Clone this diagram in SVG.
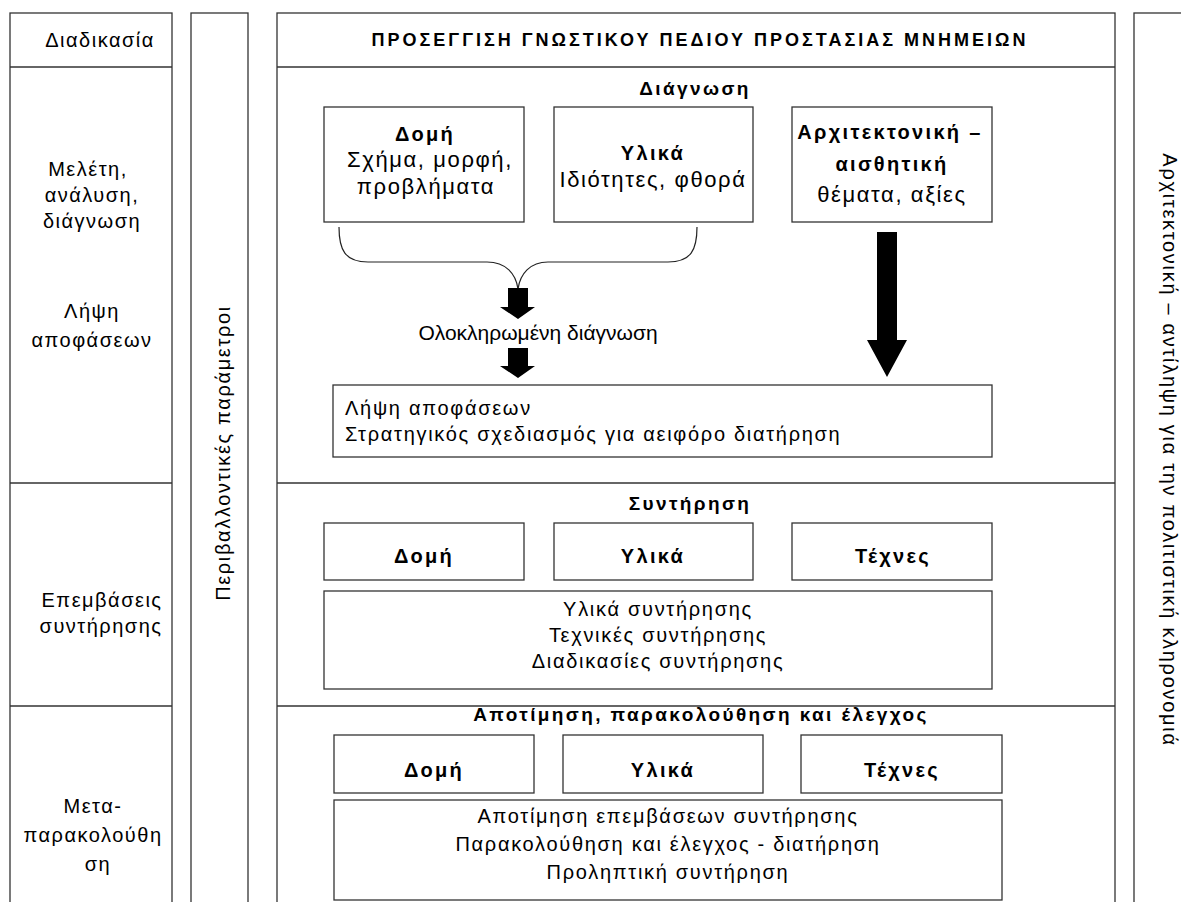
<svg xmlns="http://www.w3.org/2000/svg" width="1181" height="902" viewBox="0 0 1181 902">
  <style>
    .frame { fill: #fff; stroke: #333; stroke-width: 1.3; }
    .sep { stroke: #333; stroke-width: 1.3; fill: none; }
    .brace { stroke: #222; stroke-width: 1.2; fill: none; }
    .arrow { fill: #000; stroke: none; }
    text { font-family: "Liberation Sans", Arial, sans-serif; fill: #000; }
    .side { font-size: 20px; letter-spacing: 1.5px; text-anchor: middle; }
    .vert { font-size: 20px; letter-spacing: 1.65px; text-anchor: middle; }
    .lbl { font-size: 20px; letter-spacing: 1.7px; text-anchor: middle; }
    .lbl-l { font-size: 20px; letter-spacing: 1.7px; text-anchor: start; }
    .top { font-size: 22px; letter-spacing: 1.6px; text-anchor: middle; }
    .b { font-size: 20px; font-weight: bold; letter-spacing: 2.3px; text-anchor: middle; }
    .head { font-size: 18px; font-weight: bold; letter-spacing: 3px; text-anchor: middle; }
    .sub { font-size: 19px; font-weight: bold; letter-spacing: 2.4px; text-anchor: middle; }
    .mid { font-size: 21px; text-anchor: middle; }
  </style>
  <rect width="1181" height="902" fill="#fff"/>

  <!-- left column: process stages -->
  <g id="process-column">
    <rect class="frame" x="10" y="13" width="162" height="900"/>
    <line class="sep" x1="10" y1="67" x2="172" y2="67"/>
    <line class="sep" x1="10" y1="483" x2="172" y2="483"/>
    <line class="sep" x1="10" y1="706" x2="172" y2="706"/>
    <text class="side" x="100" y="47">Διαδικασία</text>
    <text class="side" x="88" y="176">Μελέτη,</text>
    <text class="side" x="92" y="202">ανάλυση,</text>
    <text class="side" x="92" y="228">διάγνωση</text>
    <text class="side" x="92" y="318">Λήψη</text>
    <text class="side" x="92" y="347">αποφάσεων</text>
    <text class="side" x="102" y="607">Επεμβάσεις</text>
    <text class="side" x="101" y="633">συντήρησης</text>
    <text class="side" x="93" y="813">Μετα-</text>
    <text class="side" x="93" y="842">παρακολούθη</text>
    <text class="side" x="98" y="871">ση</text>
  </g>

  <!-- environmental parameters strip -->
  <g id="environment-column">
    <rect class="frame" x="191" y="13" width="57" height="900"/>
    <text class="vert" transform="translate(230,453) rotate(-90)">Περιβαλλοντικές παράμετροι</text>
  </g>

  <!-- main column frame -->
  <g id="main-column">
    <rect class="frame" x="277" y="13" width="838" height="900"/>
    <line class="sep" x1="277" y1="67" x2="1115" y2="67"/>
    <line class="sep" x1="277" y1="483" x2="1115" y2="483"/>
    <line class="sep" x1="277" y1="706" x2="1115" y2="706"/>
    <text class="head" x="700" y="46">ΠΡΟΣΕΓΓΙΣΗ ΓΝΩΣΤΙΚΟΥ ΠΕΔΙΟΥ ΠΡΟΣΤΑΣΙΑΣ ΜΝΗΜΕΙΩΝ</text>
    <text class="sub" x="695" y="95">Διάγνωση</text>
    <text class="sub" x="690" y="510">Συντήρηση</text>
    <text class="sub" x="701" y="721">Αποτίμηση, παρακολούθηση και έλεγχος</text>
  </g>

  <!-- right column: architectural perception -->
  <g id="heritage-column">
    <rect class="frame" x="1134" y="13" width="60" height="900"/>
    <text class="vert" transform="translate(1163,450) rotate(90)" style="letter-spacing:1.7px">Αρχιτεκτονική – αντίληψη για την πολιτιστική κληρονομιά</text>
  </g>

  <!-- diagnosis boxes -->
  <g id="diag-structure">
    <rect class="frame" x="324" y="107" width="200" height="115"/>
    <text class="b" x="425" y="141">Δομή</text>
    <text class="top" x="430" y="167">Σχήμα, μορφή,</text>
    <text class="top" x="426" y="194">προβλήματα</text>
  </g>
  <g id="diag-materials">
    <rect class="frame" x="554" y="107" width="199" height="115"/>
    <text class="b" x="653" y="160">Υλικά</text>
    <text class="top" x="653" y="187">Ιδιότητες, φθορά</text>
  </g>
  <g id="diag-architecture">
    <rect class="frame" x="792" y="107" width="200" height="115"/>
    <text class="b" x="890" y="139">Αρχιτεκτονική –</text>
    <text class="b" x="892" y="171">αισθητική</text>
    <text class="top" x="892" y="202">θέματα, αξίες</text>
  </g>

  <g id="integrated-diagnosis">
    <text class="mid" x="538" y="340">Ολοκληρωμένη διάγνωση</text>
  </g>

  <g id="decision-box">
    <rect class="frame" x="333" y="385" width="659" height="72"/>
    <text class="lbl-l" x="345" y="415">Λήψη αποφάσεων</text>
    <text class="lbl-l" x="345" y="441">Στρατηγικός σχεδιασμός για αειφόρο διατήρηση</text>
  </g>

  <!-- conservation row -->
  <g id="cons-structure">
    <rect class="frame" x="324" y="523" width="200" height="57"/>
    <text class="b" x="424" y="563">Δομή</text>
  </g>
  <g id="cons-materials">
    <rect class="frame" x="554" y="523" width="199" height="57"/>
    <text class="b" x="653" y="563">Υλικά</text>
  </g>
  <g id="cons-arts">
    <rect class="frame" x="792" y="523" width="200" height="57"/>
    <text class="b" x="893" y="563">Τέχνες</text>
  </g>
  <g id="cons-details">
    <rect class="frame" x="324" y="591" width="668" height="98"/>
    <text class="lbl" x="658" y="616">Υλικά συντήρησης</text>
    <text class="lbl" x="658" y="642">Τεχνικές συντήρησης</text>
    <text class="lbl" x="658" y="668">Διαδικασίες συντήρησης</text>
  </g>

  <!-- evaluation row -->
  <g id="eval-structure">
    <rect class="frame" x="334" y="735" width="200" height="58"/>
    <text class="b" x="434" y="777">Δομή</text>
  </g>
  <g id="eval-materials">
    <rect class="frame" x="563" y="735" width="200" height="58"/>
    <text class="b" x="663" y="777">Υλικά</text>
  </g>
  <g id="eval-arts">
    <rect class="frame" x="801" y="735" width="201" height="58"/>
    <text class="b" x="902" y="777">Τέχνες</text>
  </g>
  <g id="eval-details">
    <rect class="frame" x="334" y="800" width="668" height="100"/>
    <text class="lbl" x="668" y="823">Αποτίμηση επεμβάσεων συντήρησης</text>
    <text class="lbl" x="668" y="851">Παρακολούθηση και έλεγχος - διατήρηση</text>
    <text class="lbl" x="668" y="879">Προληπτική συντήρηση</text>
  </g>

  <!-- connectors -->
  <g id="connectors">
    <path class="brace" d="M339,227 C339,250 345,262 368,262 L487,262 C506,262 516,274 518,289"/>
    <path class="brace" d="M697,227 C697,250 691,262 668,262 L548,262 C530,262 520,274 518,289"/>
    <polygon class="arrow" points="508,288 528,288 528,307 535,307 518,319 500,307 508,307"/>
    <polygon class="arrow" points="508,348 528,348 528,366 535,366 518,378 500,366 508,366"/>
    <polygon class="arrow" points="877,232 897,232 897,340 907,340 887,377 867,340 877,340"/>
  </g>
</svg>
